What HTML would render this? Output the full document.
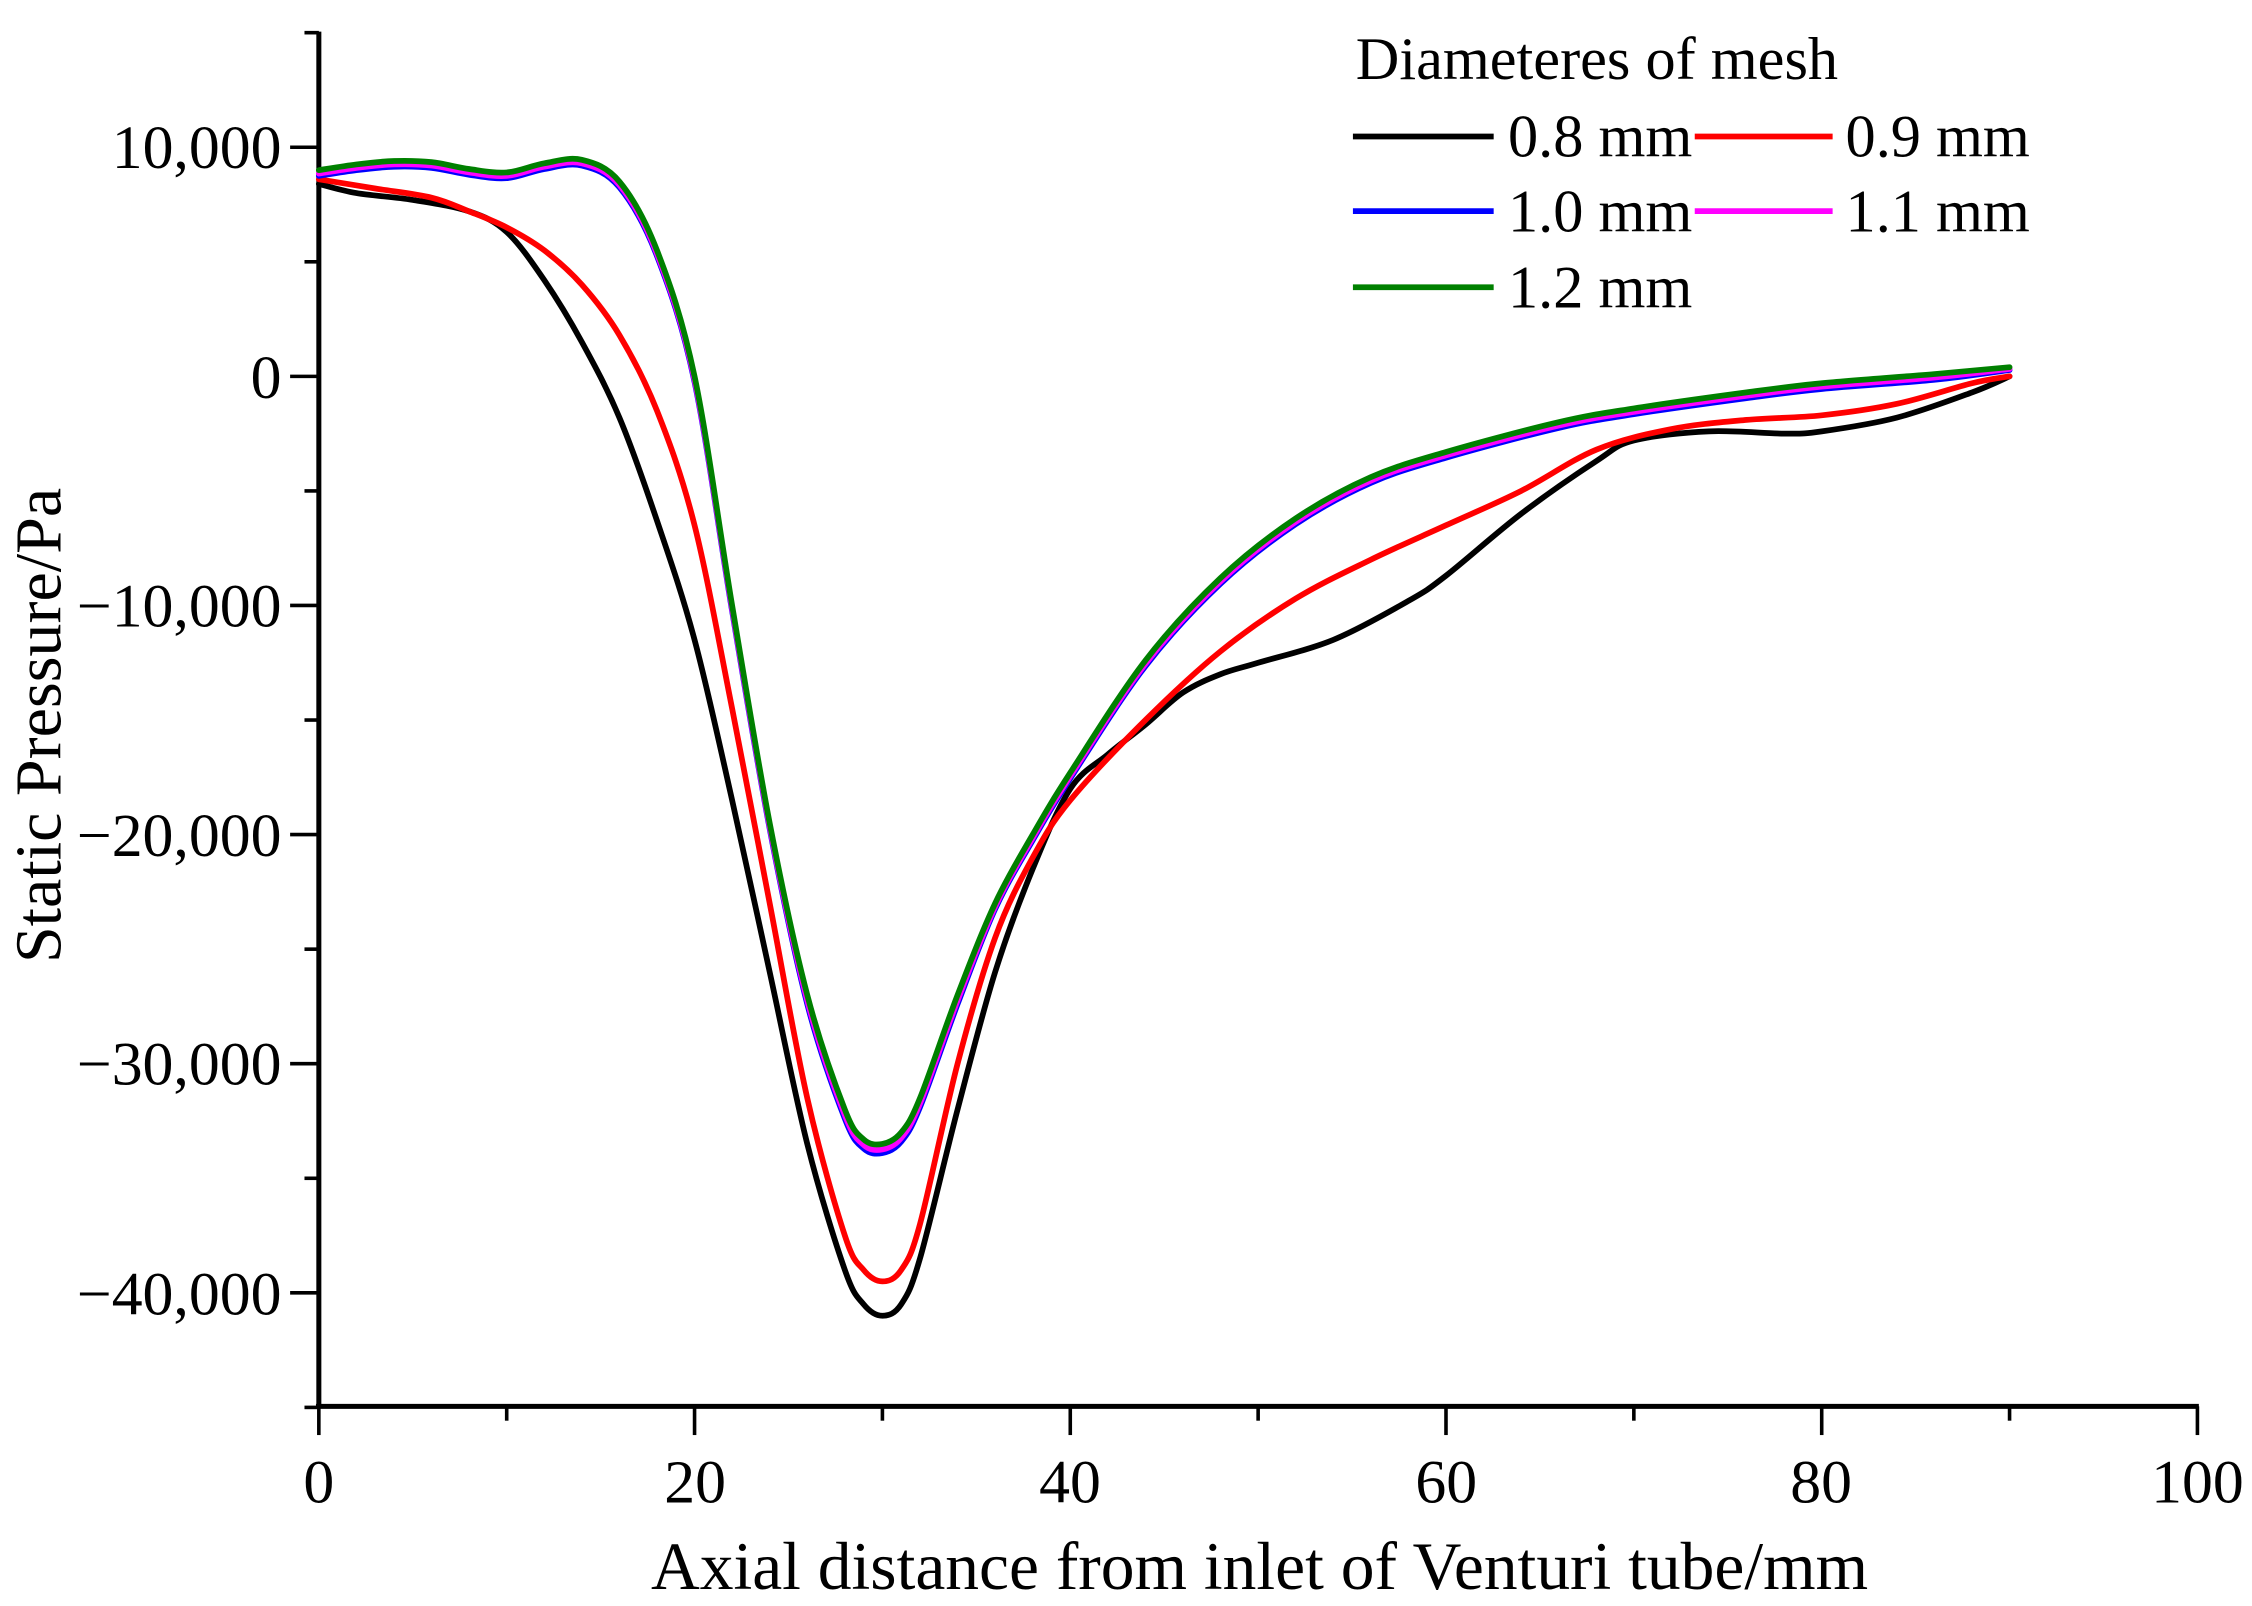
<!DOCTYPE html>
<html><head><meta charset="utf-8"><style>
html,body{margin:0;padding:0;background:#fff;}
svg{display:block;}
text{font-family:"Liberation Serif",serif;fill:#000;}
</style></head><body>
<svg id="s" width="2252" height="1606" viewBox="0 0 1568 1118" preserveAspectRatio="none" xmlns="http://www.w3.org/2000/svg">
<g id="axes" stroke="#000" fill="none"></g>
<g id="curves" fill="none" stroke-width="4" stroke-linejoin="round" stroke-linecap="round"></g>
<g font-size="43" text-anchor="end">
<text x="196" y="117">10,000</text>
<text x="196" y="277">0</text>
<text x="196" y="436">−10,000</text>
<text x="196" y="596">−20,000</text>
<text x="196" y="755">−30,000</text>
<text x="196" y="915">−40,000</text>
</g>
<g font-size="43" text-anchor="middle">
<text x="222" y="1046">0</text>
<text x="484" y="1046">20</text>
<text x="745" y="1046">40</text>
<text x="1007" y="1046">60</text>
<text x="1268" y="1046">80</text>
<text x="1530" y="1046">100</text>
</g>
<text x="877" y="1106" font-size="47" text-anchor="middle">Axial distance from inlet of Venturi tube/mm</text>
<text transform="translate(42,505) rotate(-90)" font-size="46" text-anchor="middle">Static Pressure/Pa</text>
<g font-size="42">
<text x="944" y="55">Diameteres of mesh</text>
<line x1="942" y1="95" x2="1040" y2="95" stroke="#000" stroke-width="4"/><text x="1050" y="109">0.8 mm</text>
<line x1="1180" y1="95" x2="1276" y2="95" stroke="#f00" stroke-width="4"/><text x="1285" y="109">0.9 mm</text>
<line x1="942" y1="147" x2="1040" y2="147" stroke="#00f" stroke-width="4"/><text x="1050" y="161">1.0 mm</text>
<line x1="1180" y1="147" x2="1276" y2="147" stroke="#f0f" stroke-width="4"/><text x="1285" y="161">1.1 mm</text>
<line x1="942" y1="200" x2="1040" y2="200" stroke="#008000" stroke-width="4"/><text x="1050" y="214">1.2 mm</text>
</g>
</svg>
<script>
const X=x=>222+x*13.08, Y=y=>262-y*0.01595;
const ax=document.getElementById('axes');
let h='<line x1="222" y1="22" x2="222" y2="980" stroke-width="3.5"/><line x1="220" y1="979" x2="1531" y2="979" stroke-width="3.5"/>';
for(let v=15000;v>=-45000;v-=5000){const y=Y(v);const L=(v%10000===0)?20:10;h+=`<line x1="${222-L}" y1="${y}" x2="222" y2="${y}" stroke-width="2.5"/>`;}
for(let v=0;v<=100;v+=10){const x=X(v);const L=(v%20===0)?20:10;h+=`<line x1="${x}" y1="979" x2="${x}" y2="${979+L}" stroke-width="2.5"/>`;}
ax.innerHTML=h;
function path(p){const q=p.map(a=>[X(a[0]),Y(a[1])]);let d=`M${q[0][0]},${q[0][1]}`;
for(let i=0;i<q.length-1;i++){const p0=q[i-1]||q[i],p1=q[i],p2=q[i+1],p3=q[i+2]||p2;
d+=`C${p1[0]+(p2[0]-p0[0])/6},${p1[1]+(p2[1]-p0[1])/6} ${p2[0]-(p3[0]-p1[0])/6},${p2[1]-(p3[1]-p1[1])/6} ${p2[0]},${p2[1]}`;}return d;}
const black=[[0,8400],[2,8000],[5,7700],[8,7200],[10,6300],[12,4200],[14,1500],[16,-1800],[18,-6300],[20,-11500],[22,-18500],[24,-26000],[26,-33500],[28,-39000],[29,-40500],[30,-41000],[31,-40500],[32,-38500],[34,-32000],[36,-26000],[38,-21500],[40,-18000],[42,-16500],[44,-15200],[46,-13800],[48,-13000],[50,-12500],[54,-11500],[58,-9800],[60,-8700],[64,-6000],[68,-3700],[70,-2800],[74,-2400],[78,-2500],[80,-2400],[84,-1800],[88,-700],[90,0]];
const red=[[0,8600],[3,8200],[6,7800],[8,7200],[10,6500],[12,5500],[14,4000],[16,1800],[18,-1500],[20,-6500],[22,-14500],[24,-23000],[26,-31500],[28,-37500],[29,-39000],[30,-39500],[31,-39000],[32,-37000],[34,-30000],[36,-24500],[38,-21000],[40,-18500],[44,-15000],[48,-12000],[52,-9700],[56,-8000],[60,-6500],[64,-5000],[68,-3200],[72,-2300],[76,-1900],[80,-1700],[84,-1200],[88,-300],[90,0]];
const green=[[0,9000],[2,9250],[4,9400],[6,9350],[8,9050],[10,8900],[12,9300],[14,9450],[16,8500],[18,5500],[20,0],[22,-10000],[24,-19500],[26,-27000],[28,-32000],[29,-33300],[30,-33500],[31,-33000],[32,-31500],[34,-27000],[36,-23000],[38,-20000],[40,-17300],[44,-12400],[48,-8800],[52,-6200],[56,-4400],[60,-3300],[66,-2000],[70,-1400],[76,-700],[80,-300],[86,100],[90,400]];
const off=(arr,k)=>arr.map(([x,y])=>[x,y-k*(x>25&&x<35?400:250)*(x>=88?0.5:1)]);
const c=document.getElementById('curves');
c.innerHTML=`<path d="${path(black)}" stroke="#000"/><path d="${path(red)}" stroke="#f00"/><path d="${path(off(green,1))}" stroke="#00f"/><path d="${path(off(green,0.6))}" stroke="#f0f"/><path d="${path(green)}" stroke="#008000"/>`;
</script>
</body></html>
